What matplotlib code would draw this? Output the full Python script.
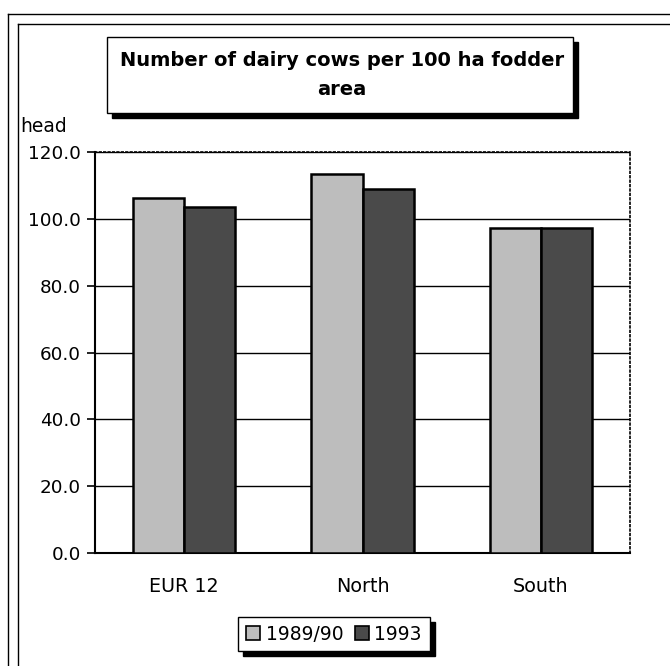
import matplotlib
matplotlib.use("Agg")
import matplotlib.pyplot as plt
from matplotlib.patches import Rectangle
from matplotlib.lines import Line2D
import numpy as np

plt.rcParams['font.family'] = ['DejaVu Sans']

categories = ["EUR 12", "North", "South"]
series_names = ["1989/90", "1993"]
values_1989 = [106.3, 113.4, 97.4]
values_1993 = [103.5, 108.8, 97.3]
yticks = [0, 20, 40, 60, 80, 100, 120]
title = "Number of dairy cows per 100 ha fodder\narea"
ylabel = "head"

W, H = 670, 666
fig = plt.figure(figsize=(W / 100, H / 100), dpi=100)

def fx(px):
    return px / W

def fy(py):
    return 1 - py / H

# outer double frame
for x0, y0 in [(8, 14), (18, 24)]:
    fig.add_artist(Line2D([fx(x0), fx(x0)], [fy(y0), 0], color='black', lw=1.0,
                          transform=fig.transFigure))
    fig.add_artist(Line2D([fx(x0), 1], [fy(y0), fy(y0)], color='black', lw=1.0,
                          transform=fig.transFigure))

ax = fig.add_axes([fx(95), fy(553), fx(630) - fx(95), fy(152) - fy(553)])

x = np.arange(len(categories))
bw = 0.286
ax.bar(x - bw / 2, values_1989, bw, color='#bdbdbd', edgecolor='black', lw=1.8,
       label=series_names[0], zorder=3)
ax.bar(x + bw / 2, values_1993, bw, color='#4a4a4a', edgecolor='black', lw=1.8,
       label=series_names[1], zorder=3)

ax.set_xlim(-0.5, 2.5)
ax.set_ylim(0, 120)
ax.set_yticks(yticks)
ax.set_yticklabels([f"{v:.1f}" for v in yticks], fontsize=13.2)
ax.set_xticks(x)
ax.set_xticklabels(categories, fontsize=13.8)
ax.tick_params(axis='x', length=0, pad=17)
ax.tick_params(axis='y', direction='out', length=6, width=1.2, pad=4)
ax.yaxis.grid(True, color='black', lw=1.0, zorder=0)
ax.set_axisbelow(True)
ax.spines['left'].set_linewidth(1.5)
ax.spines['bottom'].set_linewidth(1.5)
for s in ['top', 'right']:
    ax.spines[s].set_linestyle(':')
    ax.spines[s].set_linewidth(1.2)

# y-axis unit label
fig.text(fx(20), fy(127), ylabel, fontsize=13.5, ha='left', va='center')

# title box with shadow
bx0, by0, bx1, by1 = 107, 37, 573, 113
fig.add_artist(Rectangle((fx(bx0 + 5), fy(by1 + 5)), fx(bx1 - bx0), fy(by0) - fy(by1),
                         transform=fig.transFigure, facecolor='black', edgecolor='black'))
fig.add_artist(Rectangle((fx(bx0), fy(by1)), fx(bx1 - bx0), fy(by0) - fy(by1),
                         transform=fig.transFigure, facecolor='white', edgecolor='black', lw=1.0))
fig.text(fx((bx0 + bx1) / 2 + 2), fy((by0 + by1) / 2), title, fontsize=14, fontweight='bold',
         ha='center', va='center', linespacing=1.65)

# legend box with shadow
lx0, ly0, lx1, ly1 = 238, 617, 430, 651
fig.add_artist(Rectangle((fx(lx0 + 5), fy(ly1 + 5)), fx(lx1 - lx0), fy(ly0) - fy(ly1),
                         transform=fig.transFigure, facecolor='black', edgecolor='black'))
fig.add_artist(Rectangle((fx(lx0), fy(ly1)), fx(lx1 - lx0), fy(ly0) - fy(ly1),
                         transform=fig.transFigure, facecolor='white', edgecolor='black', lw=1.0))
handles = [Rectangle((0, 0), 1, 1, facecolor='#bdbdbd', edgecolor='black', lw=1.2),
           Rectangle((0, 0), 1, 1, facecolor='#4a4a4a', edgecolor='black', lw=1.2)]
fig.legend(handles, series_names, loc='center', bbox_to_anchor=(fx((lx0 + lx1) / 2), fy((ly0 + ly1) / 2)),
           ncol=2, frameon=False, fontsize=13.5, handlelength=0.75, handleheight=0.75,
           handletextpad=0.3, columnspacing=0.6, borderpad=0)

fig.savefig("out.png", dpi=100)
